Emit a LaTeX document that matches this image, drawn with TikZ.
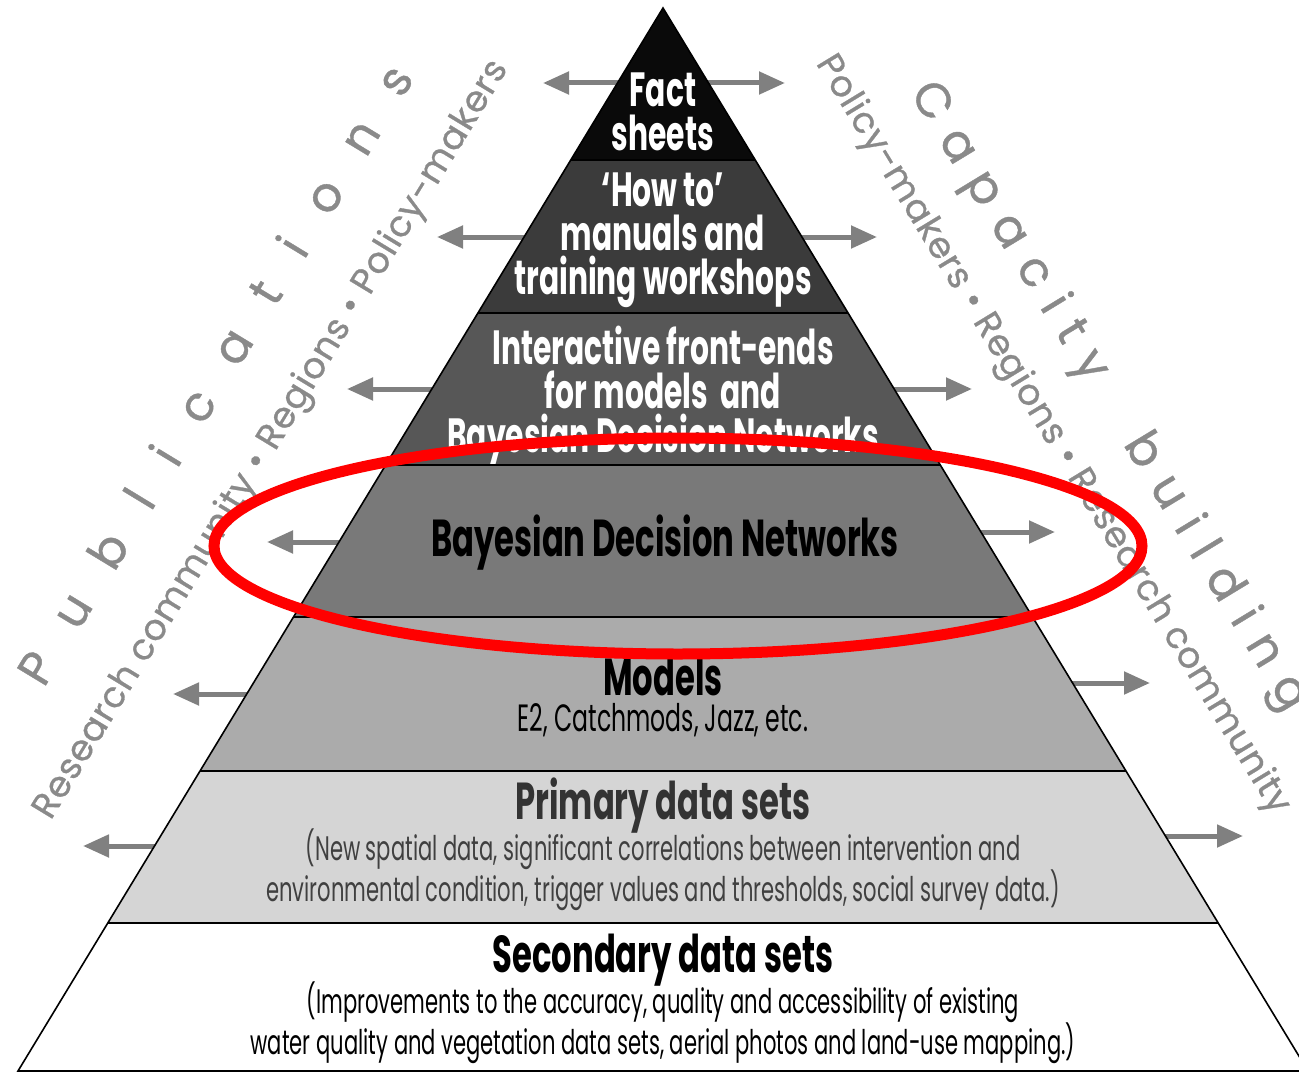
\documentclass[tikz,border=0pt]{standalone}
\usepackage{fontspec}
\setmainfont{Poppins}
\newfontfamily\pyrfont{Poppins}[FakeStretch=0.62]
\newfontfamily\sidefont{Poppins}[FakeBold=0.8]
\usetikzlibrary{arrows.meta}

\definecolor{lev1}{HTML}{0A0A0A}
\definecolor{lev2}{HTML}{3B3B3B}
\definecolor{lev3}{HTML}{575757}
\definecolor{lev4}{HTML}{797979}
\definecolor{lev5}{HTML}{ABABAB}
\definecolor{lev6}{HTML}{D5D5D5}
\definecolor{arrowgray}{HTML}{808080}
\definecolor{sidegray}{HTML}{8A8A8A}
\definecolor{ringred}{HTML}{FF0000}

\begin{document}
\begin{tikzpicture}[x=1pt,y=-1pt,
    flow/.style={draw=arrowgray,line width=5pt,-{Triangle[length=26pt,width=22pt]}},
    split/.style={draw=black,line width=1.6pt},
    head/.style={font={\pyrfont\bfseries\fontsize{48pt}{44pt}\selectfont},align=center,text=white},
    title/.style={font={\pyrfont\bfseries\fontsize{52pt}{44pt}\selectfont},align=center},
    detail/.style={font={\pyrfont\fontsize{34pt}{41pt}\selectfont},align=center},
    outer/.style={font={\sidefont\fontsize{48pt}{48pt}\selectfont},text=sidegray},
    inner/.style={font={\sidefont\fontsize{36pt}{36pt}\selectfont\addfontfeature{LetterSpace=2}},text=sidegray},
    ring/.style={draw=ringred,line width=11pt}]
  \useasboundingbox (0,0) rectangle (1299,1073);

  % arrows leaving each level (start hidden behind the pyramid)
  \foreach \y/\x in {83/543,237/437,389/347,542/267,694/173,846/83}
    \draw[flow] (663,\y) -- (\x,\y);
  \foreach \y/\x in {83/785,237/877,389/972,532/1055,683/1150,836/1243}
    \draw[flow] (663,\y) -- (\x,\y);

  % pyramid
  \coordinate (apex) at (663,8);
  \coordinate (baseL) at (18,1071);
  \coordinate (baseR) at (1308,1071);
  \begin{scope}
    \clip (apex) -- (baseL) -- (baseR) -- cycle;
    \fill[lev1] (0,0) rectangle (1299,160);
    \node[head] (fact) at (663,112) {Fact\\sheets};
    \fill[lev2] (0,160) rectangle (1299,313);
    \node[head] (howto) at (663,240) {‘How to’\\manuals and\\training workshops};
    \fill[lev3] (0,313) rectangle (1299,465);
    \node[head] (front) at (663,396) {Interactive front-ends\\for models~ and\\Bayesian Decision Networks};
    \fill[lev4] (0,465) rectangle (1299,617);
    \node[title] (bdn) at (665,543) {Bayesian Decision Networks};
    \fill[lev5] (0,617) rectangle (1299,771);
    \node[title] (models) at (663,676) {Models};
    \node[detail,font={\pyrfont\fontsize{38pt}{41pt}\selectfont}] (modeldata) at (663,720) {E2, Catchmods, Jazz, etc.};
    \fill[lev6] (0,771) rectangle (1299,923);
    \node[title,text=black!80] (primary) at (663,806) {Primary data sets};
    \node[detail,text=black!75] (primarydata) at (663,870) {(New spatial data, significant correlations between intervention and\\environmental condition, trigger values and thresholds, social survey data.)};
    \fill[white] (0,923) rectangle (1299,1071);
    \node[title] (secondary) at (663,960) {Secondary data sets};
    \node[detail] (secondarydata) at (663,1023) {(Improvements to the accuracy, quality and accessibility of existing\\water quality and vegetation data sets, aerial photos and land-use mapping.)};
    \foreach \y in {160,313,465,617,771,923}
      \draw[split] (0,\y) -- (1299,\y);
  \end{scope}
  \draw[split] (apex) -- (baseL) -- (baseR) -- cycle;

  % audiences along the sides
  \node[outer,rotate=58.7,font={\sidefont\fontsize{48pt}{48pt}\selectfont\addfontfeature{LetterSpace=80}}] (pubs) at (214,374) {Publications};
  \node[inner,rotate=58.7] (pubaud) at (272,440) {Research community • Regions • Policy-makers};
  \node[outer,rotate=-58.7,font={\sidefont\fontsize{48pt}{48pt}\selectfont\addfontfeature{LetterSpace=36}}] (capb) at (1108,397) {Capacity\hspace{70pt}building};
  \node[inner,rotate=-58.7] (capaud) at (1052,435) {Policy-makers • Regions • Research community};

  % highlighted level
  \draw[ring] (678,546) ellipse [x radius=464pt,y radius=108pt];
\end{tikzpicture}
\end{document}
